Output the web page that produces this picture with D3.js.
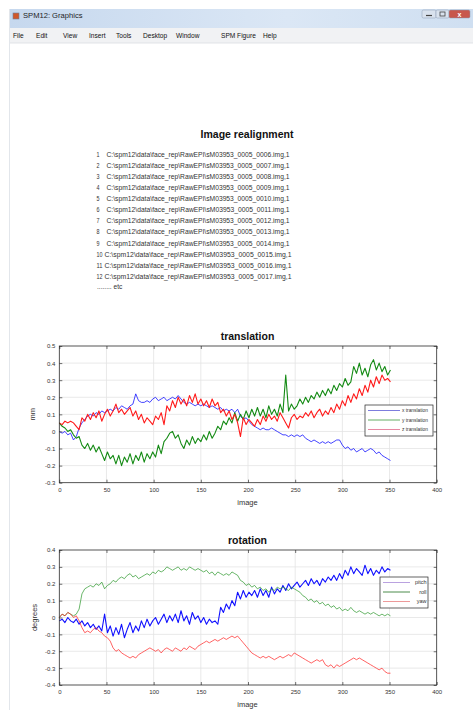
<!DOCTYPE html>
<html>
<head>
<meta charset="utf-8">
<script src="https://cdn.jsdelivr.net/npm/d3@7"></script>
<style>
  body { margin: 0; background: #fff; }
  svg { display: block; font-family: 'Liberation Sans', Arial, sans-serif; }
</style>
</head>
<body>
<svg id="fig" width="473" height="710"></svg>
<script>
// window chrome
const windowTitle = 'SPM12: Graphics';
const menuItems = ['File', 'Edit', 'View', 'Insert', 'Tools', 'Desktop', 'Window', 'SPM Figure', 'Help'];
const menuX = [13, 36, 63, 89, 116, 143, 176, 221, 263];

// realigned files
const filePrefix = 'C:\\spm12\\data\\face_rep\\RawEPI\\sM03953_0005_';
const fileScans = ['0006', '0007', '0008', '0009', '0010', '0011', '0012', '0013', '0014', '0015', '0016', '0017'];

// tick values
const imageTicks = [0, 50, 100, 150, 200, 250, 300, 350, 400];
const translationTicks = [-0.3, -0.2, -0.1, 0, 0.1, 0.2, 0.3, 0.4, 0.5];
const rotationTicks = [-0.4, -0.3, -0.2, -0.1, 0, 0.1, 0.2, 0.3, 0.4];

// one value every 3 images (0, 3, 6 ... 351)
const imageStep = 3;

const xTranslation = [
  0.00, -0.01, 0.00, -0.02, -0.01, -0.05, -0.03, 0.02, 0.05, 0.07,
  0.09, 0.10, 0.09, 0.11, 0.10, 0.12, 0.11, 0.12, 0.13, 0.12,
  0.14, 0.13, 0.15, 0.14, 0.13, 0.15, 0.16, 0.22, 0.18, 0.17,
  0.17, 0.18, 0.17, 0.19, 0.20, 0.18, 0.19, 0.20, 0.18, 0.19,
  0.20, 0.19, 0.21, 0.19, 0.17, 0.16, 0.17, 0.16, 0.15, 0.16,
  0.15, 0.16, 0.15, 0.14, 0.15, 0.14, 0.13, 0.14, 0.12, 0.13,
  0.12, 0.13, 0.11, 0.13, 0.09, 0.07, 0.08, 0.06, 0.04, 0.03,
  0.02, 0.01, 0.02, 0.01, 0.01, 0.02, 0.01, 0.00, -0.01, -0.02,
  -0.02, -0.03, -0.02, -0.03, -0.02, -0.03, -0.02, -0.04, -0.05, -0.06,
  -0.05, -0.06, -0.07, -0.06, -0.07, -0.06, -0.07, -0.06, -0.05, -0.05,
  -0.08, -0.10, -0.09, -0.11, -0.10, -0.12, -0.11, -0.10, -0.12, -0.11,
  -0.10, -0.11, -0.13, -0.12, -0.14, -0.15, -0.16, -0.17
];
const yTranslation = [
  0.05, 0.03, 0.02, 0.00, 0.01, -0.02, -0.04, -0.03, -0.08, -0.10,
  -0.07, -0.11, -0.08, -0.12, -0.09, -0.13, -0.17, -0.12, -0.16, -0.14,
  -0.19, -0.14, -0.20, -0.15, -0.18, -0.13, -0.19, -0.14, -0.17, -0.12,
  -0.18, -0.13, -0.16, -0.12, -0.15, -0.08, -0.13, -0.06, -0.04, -0.01,
  0.00, -0.04, -0.02, -0.07, -0.10, -0.05, -0.08, -0.03, -0.07, -0.04,
  -0.06, -0.02, -0.05, 0.00, -0.04, -0.01, 0.03, 0.01, 0.06, 0.04,
  0.08, 0.05, 0.11, 0.06, 0.10, 0.07, 0.12, 0.08, 0.13, 0.09,
  0.14, 0.09, 0.13, 0.08, 0.15, 0.10, 0.13, 0.09, 0.16, 0.11,
  0.33, 0.12, 0.16, 0.13, 0.15, 0.19, 0.16, 0.20, 0.17, 0.21,
  0.19, 0.23, 0.20, 0.24, 0.21, 0.25, 0.22, 0.27, 0.24, 0.28,
  0.26, 0.31, 0.27, 0.29, 0.38, 0.34, 0.40, 0.33, 0.37, 0.32,
  0.39, 0.42, 0.36, 0.40, 0.35, 0.38, 0.33, 0.36
];
const zTranslation = [
  0.05, 0.04, 0.06, 0.05, 0.06, 0.05, 0.03, 0.01, 0.08, 0.06,
  0.10, 0.07, 0.11, 0.08, 0.12, 0.06, 0.10, 0.13, 0.09, 0.12,
  0.16, 0.11, 0.13, 0.10, 0.12, 0.14, 0.09, 0.12, 0.07, 0.10,
  0.05, 0.08, 0.06, 0.04, 0.09, 0.07, 0.11, 0.04, 0.15, 0.12,
  0.18, 0.14, 0.20, 0.16, 0.19, 0.15, 0.21, 0.17, 0.22, 0.16,
  0.19, 0.15, 0.18, 0.14, 0.19, 0.15, 0.17, 0.11, 0.13, 0.09,
  0.12, 0.07, 0.10, 0.05, -0.03, 0.08, 0.04, 0.07, 0.05, 0.03,
  0.07, 0.04, 0.09, 0.06, 0.10, 0.07, 0.09, 0.06, 0.11, 0.08,
  0.05, 0.02, 0.08, 0.10, 0.07, 0.09, 0.08, 0.11, 0.09, 0.12,
  0.08, 0.11, 0.13, 0.09, 0.12, 0.10, 0.14, 0.11, 0.16, 0.13,
  0.18, 0.15, 0.21, 0.17, 0.22, 0.19, 0.25, 0.21, 0.27, 0.23,
  0.30, 0.26, 0.32, 0.28, 0.33, 0.30, 0.31, 0.29
];

const pitch = [
  -0.02, -0.01, -0.03, 0.00, -0.02, -0.03, -0.01, -0.04, -0.02, -0.05,
  -0.03, -0.06, -0.04, -0.07, -0.05, -0.08, 0.02, -0.09, -0.05, -0.11,
  -0.06, -0.10, -0.04, -0.12, -0.07, -0.03, -0.09, -0.05, -0.08, -0.02,
  -0.06, -0.01, -0.05, -0.02, 0.00, -0.04, -0.01, 0.02, -0.03, 0.01,
  -0.02, 0.02, -0.03, 0.04, -0.02, 0.01, -0.04, 0.03, -0.01, 0.01,
  -0.03, 0.00, -0.04, -0.01, -0.03, -0.02, -0.04, 0.06, 0.03, 0.08,
  0.05, 0.10, 0.07, 0.15, 0.11, 0.16, 0.12, 0.15, 0.13, 0.16,
  0.12, 0.17, 0.13, 0.16, 0.12, 0.18, 0.14, 0.17, 0.15, 0.19,
  0.16, 0.20, 0.17, 0.19, 0.21, 0.18, 0.20, 0.22, 0.19, 0.23,
  0.20, 0.22, 0.19, 0.23, 0.21, 0.24, 0.22, 0.25, 0.22, 0.26,
  0.23, 0.28, 0.25, 0.30, 0.26, 0.29, 0.27, 0.25, 0.31, 0.26,
  0.29, 0.25, 0.28, 0.26, 0.30, 0.27, 0.29, 0.28
];
const roll = [
  0.00, 0.02, 0.01, 0.03, 0.02, 0.01, 0.02, 0.05, 0.14, 0.17,
  0.18, 0.19, 0.18, 0.20, 0.19, 0.21, 0.17, 0.19, 0.20, 0.22,
  0.21, 0.23, 0.24, 0.23, 0.25, 0.26, 0.24, 0.25, 0.23, 0.24,
  0.25, 0.26, 0.25, 0.27, 0.26, 0.28, 0.27, 0.28, 0.30, 0.29,
  0.28, 0.29, 0.30, 0.28, 0.29, 0.28, 0.30, 0.29, 0.28, 0.29,
  0.28, 0.27, 0.28, 0.26, 0.27, 0.25, 0.27, 0.26, 0.25, 0.26,
  0.25, 0.27, 0.26, 0.25, 0.22, 0.21, 0.19, 0.20, 0.18, 0.19,
  0.17, 0.18, 0.16, 0.17, 0.15, 0.17, 0.16, 0.18, 0.17, 0.18,
  0.17, 0.16, 0.18, 0.17, 0.16, 0.15, 0.13, 0.12, 0.10, 0.11,
  0.09, 0.10, 0.08, 0.09, 0.07, 0.08, 0.06, 0.07, 0.05, 0.06,
  0.04, 0.05, 0.04, 0.06, 0.04, 0.03, 0.04, 0.03, 0.02, 0.03,
  0.02, 0.03, 0.02, 0.01, 0.02, 0.01, 0.02, 0.01
];
const yaw = [
  0.00, 0.02, 0.01, 0.03, 0.02, 0.00, 0.01, -0.02, -0.06, -0.09,
  -0.08, -0.09, -0.07, -0.06, -0.08, -0.09, -0.11, -0.12, -0.14, -0.18,
  -0.20, -0.19, -0.21, -0.22, -0.23, -0.24, -0.23, -0.24, -0.22, -0.21,
  -0.20, -0.19, -0.18, -0.19, -0.20, -0.19, -0.21, -0.19, -0.18, -0.19,
  -0.20, -0.18, -0.19, -0.20, -0.18, -0.19, -0.17, -0.18, -0.19, -0.17,
  -0.16, -0.15, -0.14, -0.15, -0.14, -0.13, -0.14, -0.13, -0.12, -0.13,
  -0.12, -0.11, -0.12, -0.11, -0.13, -0.15, -0.17, -0.19, -0.21, -0.22,
  -0.23, -0.24, -0.23, -0.24, -0.23, -0.24, -0.25, -0.24, -0.23, -0.24,
  -0.23, -0.22, -0.23, -0.21, -0.22, -0.23, -0.24, -0.25, -0.26, -0.27,
  -0.26, -0.25, -0.26, -0.25, -0.28, -0.29, -0.28, -0.30, -0.28, -0.29,
  -0.28, -0.27, -0.26, -0.25, -0.24, -0.25, -0.24, -0.25, -0.26, -0.27,
  -0.28, -0.29, -0.30, -0.31, -0.30, -0.32, -0.33, -0.33
];

const svg = d3.select('#fig');

function drawChrome () {
  let defs = svg.append('defs');
  let grad = defs.append('linearGradient').attr('id', 'titleGrad')
    .attr('x1', 0).attr('x2', 1).attr('y1', 0).attr('y2', 0);
  grad.append('stop').attr('offset', '0%').attr('stop-color', '#c6d8ee');
  grad.append('stop').attr('offset', '60%').attr('stop-color', '#dbe7f5');
  grad.append('stop').attr('offset', '100%').attr('stop-color', '#cfdff1');

  svg.append('rect').attr('x', 9).attr('y', 9).attr('width', 464).attr('height', 19)
    .attr('fill', 'url(#titleGrad)');
  // small window icon
  svg.append('rect').attr('x', 13).attr('y', 13).attr('width', 6).attr('height', 6)
    .attr('fill', '#d0572a').attr('stroke', '#6b7fa0').attr('stroke-width', 0.6);
  svg.append('text').attr('x', 23).attr('y', 18)
    .attr('font-size', 7.6).attr('fill', '#1e1e1e').text(windowTitle);

  // min / max / close buttons
  let buttons = [
    { x: 422, w: 14, fill: '#d9e2ee' },
    { x: 436, w: 13, fill: '#d9e2ee' },
    { x: 449, w: 21, fill: '#c8574c' }
  ];
  svg.selectAll('rect.btn').data(buttons).enter().append('rect')
    .attr('class', 'btn')
    .attr('x', d => d.x).attr('y', 10).attr('width', d => d.w).attr('height', 8)
    .attr('rx', 1.5).attr('fill', d => d.fill)
    .attr('stroke', '#8a9ab0').attr('stroke-width', 0.5);
  svg.append('line').attr('x1', 426).attr('x2', 432).attr('y1', 15.5).attr('y2', 15.5)
    .attr('stroke', '#444').attr('stroke-width', 1.2);
  svg.append('rect').attr('x', 440).attr('y', 12).attr('width', 5).attr('height', 4)
    .attr('fill', 'none').attr('stroke', '#444').attr('stroke-width', 0.8);
  svg.append('text').attr('x', 459.5).attr('y', 16.5).attr('text-anchor', 'middle')
    .attr('font-size', 7).attr('font-weight', 'bold').attr('fill', '#fff').text('x');

  // menu bar
  svg.append('rect').attr('x', 9).attr('y', 28).attr('width', 464).attr('height', 15)
    .attr('fill', '#f1f2f4');
  svg.append('line').attr('x1', 9).attr('x2', 473).attr('y1', 43).attr('y2', 43)
    .attr('stroke', '#dadde2').attr('stroke-width', 0.8);
  svg.selectAll('text.menu').data(menuItems).enter().append('text')
    .attr('class', 'menu')
    .attr('x', (d, i) => menuX[i]).attr('y', 38)
    .attr('font-size', 6.6).attr('fill', '#111')
    .text(d => d);

  // left window border
  svg.append('line').attr('x1', 9.5).attr('x2', 9.5).attr('y1', 9).attr('y2', 710)
    .attr('stroke', '#e2e6eb').attr('stroke-width', 1);
}

function drawFileList () {
  svg.append('text').attr('x', 247).attr('y', 138)
    .attr('text-anchor', 'middle').attr('font-size', 10.5).attr('font-weight', 'bold')
    .attr('fill', '#111').text('Image realignment');

  let rows = svg.append('g').attr('font-size', 6.6).attr('fill', '#333');
  let y = d3.scaleLinear().domain([0, 11]).range([156.5, 279]);
  fileScans.forEach((scan, i) => {
    let label = String(i + 1);
    rows.append('text').attr('x', 96.5).attr('y', y(i))
      .attr('textLength', label.length * 3).attr('lengthAdjust', 'spacingAndGlyphs')
      .text(label);
    rows.append('text')
      .attr('x', i < 9 ? 106.5 : 104.5).attr('y', y(i))
      .attr('textLength', i < 9 ? 183 : 187).attr('lengthAdjust', 'spacingAndGlyphs')
      .text(filePrefix + scan + '.img,1');
  });
  rows.append('text').attr('x', 97).attr('y', y(12) - 1.5).text('........ etc');
}

function drawPanel (panel) {
  let x = d3.scaleLinear().domain([0, 400]).range([59.3, 436.7]);
  let y = d3.scaleLinear().domain(panel.domain).range([panel.bottom, panel.top]);
  let g = svg.append('g');

  // grid
  g.selectAll('line.gx').data(imageTicks.slice(1, -1)).enter().append('line')
    .attr('x1', d => x(d)).attr('x2', d => x(d))
    .attr('y1', panel.top).attr('y2', panel.bottom)
    .attr('stroke', '#e3e3e3').attr('stroke-width', 0.8);
  g.selectAll('line.gy').data(panel.ticks.slice(1, -1)).enter().append('line')
    .attr('x1', x.range()[0]).attr('x2', x.range()[1])
    .attr('y1', d => y(d)).attr('y2', d => y(d))
    .attr('stroke', '#e3e3e3').attr('stroke-width', 0.8);

  // series
  let line = d3.line()
    .x((d, i) => x(i * imageStep))
    .y(d => y(d));
  panel.series.forEach(s => {
    g.append('path').datum(s.values)
      .attr('d', line)
      .attr('fill', 'none')
      .attr('stroke', s.color)
      .attr('stroke-width', s.width)
      .attr('stroke-linejoin', 'round');
  });

  // axes with inward ticks, MATLAB style
  let bottomAxis = d3.axisBottom(x).tickValues(imageTicks)
    .tickSizeInner(-3).tickSizeOuter(0).tickPadding(5)
    .tickFormat(d => String(d));
  let leftAxis = d3.axisLeft(y).tickValues(panel.ticks)
    .tickSizeInner(-3).tickSizeOuter(0).tickPadding(4)
    .tickFormat(d => String(d));
  let ax = g.append('g').attr('transform', 'translate(0,' + panel.bottom + ')').call(bottomAxis);
  let ay = g.append('g').attr('transform', 'translate(' + x.range()[0] + ',0)').call(leftAxis);
  let topAxis = d3.axisTop(x).tickValues(imageTicks).tickSizeInner(-3).tickSizeOuter(0).tickFormat('');
  let rightAxis = d3.axisRight(y).tickValues(panel.ticks).tickSizeInner(-3).tickSizeOuter(0).tickFormat('');
  let at = g.append('g').attr('transform', 'translate(0,' + panel.top + ')').call(topAxis);
  let ar = g.append('g').attr('transform', 'translate(' + x.range()[1] + ',0)').call(rightAxis);
  [ax, ay, at, ar].forEach(a => {
    a.select('.domain').remove();
    a.selectAll('line').attr('stroke', '#333').attr('stroke-width', 0.7);
    a.selectAll('text').attr('font-size', 6).attr('fill', '#333')
      .attr('font-family', "'Liberation Sans', Arial, sans-serif");
  });

  g.append('rect')
    .attr('x', x.range()[0]).attr('y', panel.top)
    .attr('width', x.range()[1] - x.range()[0]).attr('height', panel.bottom - panel.top)
    .attr('fill', 'none').attr('stroke', '#2a2a2a').attr('stroke-width', 0.8);

  g.append('text').attr('x', 247.5).attr('y', panel.top - 6)
    .attr('text-anchor', 'middle').attr('font-size', 10.5).attr('font-weight', 'bold')
    .attr('fill', '#111').text(panel.title);
  g.append('text').attr('x', 247.5).attr('y', panel.bottom + 22)
    .attr('text-anchor', 'middle').attr('font-size', 7.5).attr('fill', '#333').text('image');
  g.append('text')
    .attr('transform', 'translate(' + panel.ylabelX + ',' + (panel.top + panel.bottom) / 2 + ') rotate(-90)')
    .attr('text-anchor', 'middle').attr('font-size', 7.5).attr('fill', '#333').text(panel.ylabel);

  // legend
  let lg = panel.legend;
  let leg = g.append('g');
  leg.append('rect').attr('x', lg.x).attr('y', lg.y).attr('width', lg.w).attr('height', lg.h)
    .attr('fill', '#fff').attr('stroke', '#222').attr('stroke-width', 0.7);
  panel.series.forEach((s, i) => {
    let ry = lg.y + lg.row0 + i * lg.rowStep;
    leg.append('line')
      .attr('x1', lg.x + 3).attr('x2', lg.x + lg.lineLen)
      .attr('y1', ry).attr('y2', ry)
      .attr('stroke', s.legendColor).attr('stroke-width', 0.8);
    leg.append('text')
      .attr('x', lg.anchor === 'end' ? lg.x + lg.w - 1.5 : lg.x + lg.lineLen + 2)
      .attr('y', ry + 1.6)
      .attr('text-anchor', lg.anchor)
      .attr('font-size', lg.fontSize).attr('fill', '#333')
      .text(s.name);
  });
}

drawChrome();
drawFileList();

drawPanel({
  title: 'translation',
  ylabel: 'mm',
  ylabelX: 35,
  domain: [-0.3, 0.5],
  ticks: translationTicks,
  top: 346,
  bottom: 482.7,
  series: [
    { name: 'x translation', values: xTranslation, color: '#1414ff', legendColor: '#5c5cd6', width: 0.8 },
    { name: 'y translation', values: yTranslation, color: '#138a13', legendColor: '#3c9a3c', width: 1.1 },
    { name: 'z translation', values: zTranslation, color: '#ff1a1a', legendColor: '#e06a8a', width: 1.1 }
  ],
  legend: { x: 365, y: 405, w: 68, h: 31, row0: 5.5, rowStep: 9.5, lineLen: 35, fontSize: 4.8, anchor: 'start' }
});

drawPanel({
  title: 'rotation',
  ylabel: 'degrees',
  ylabelX: 37,
  domain: [-0.4, 0.4],
  ticks: rotationTicks,
  top: 550,
  bottom: 685,
  series: [
    { name: 'pitch', values: pitch, color: '#1010ff', legendColor: '#a88ad8', width: 1.1 },
    { name: 'roll', values: roll, color: '#2a962a', legendColor: '#1e6e1e', width: 0.7 },
    { name: 'yaw', values: yaw, color: '#ff2020', legendColor: '#e88080', width: 0.7 }
  ],
  legend: { x: 380, y: 577, w: 48, h: 31, row0: 5.5, rowStep: 9.5, lineLen: 30, fontSize: 5.5, anchor: 'end' }
});
</script>
</body>
</html>
